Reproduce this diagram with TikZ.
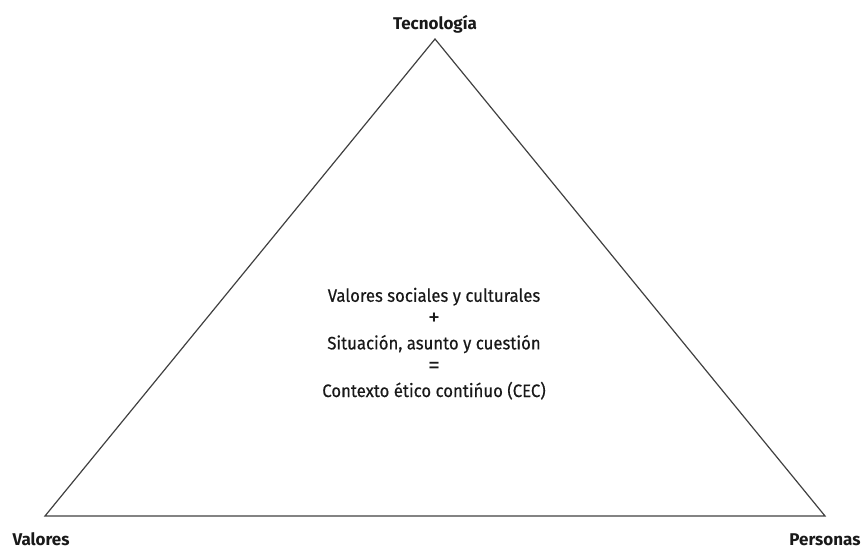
\documentclass[tikz,border=0pt]{standalone}
\usepackage{fontspec}
\setmainfont{Fira Sans}
\newfontfamily\centerfont{Fira Sans}[FakeStretch=0.93,FakeBold=0.5]
\newfontfamily\symfont{Fira Sans}
\newcommand\bigsym[1]{{\symfont\fontsize{24}{23.8}\selectfont #1}}
\begin{document}
\begin{tikzpicture}[x=1pt,y=-1pt,
  corner/.style={font=\bfseries\fontsize{17}{20}\selectfont, text=black!90},
  center/.style={align=center, font=\centerfont\fontsize{18}{23.8}\selectfont, text=black!90},
  side/.style={draw=black!75, line width=1.2pt, line join=miter}]
\useasboundingbox (0,0) rectangle (866,548);
\coordinate (T) at (435,39);
\coordinate (L) at (45,516);
\coordinate (R) at (825,516);
\draw[side] (T) -- (L) -- (R) -- cycle;
\node[corner, anchor=base] (tec) at (435,30) {Tecnología};
\node[corner, anchor=base west] (val) at (9,545) {Valores};
\node[corner, anchor=base east] (per) at (864,545) {Personas};
\node[center, anchor=base] (txt) at (434,397) {Valores sociales y culturales\\ \bigsym{+}\\ Situación, asunto y cuestión\\ \bigsym{=}\\ Contexto ético contińuo (CEC)};
\end{tikzpicture}
\end{document}
